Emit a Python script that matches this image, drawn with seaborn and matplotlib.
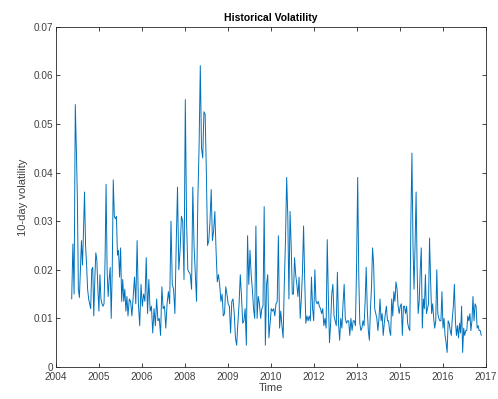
import numpy as np
import pandas as pd
import matplotlib
matplotlib.use("Agg")
import matplotlib.pyplot as plt
import seaborn as sns
from matplotlib.ticker import FuncFormatter

# ---- data ----
vol_a = [0.014, 0.0253, 0.015, 0.054, 0.045, 0.035, 0.016, 0.0143, 0.020, 0.026, 0.021, 0.028, 0.036,
         0.025, 0.021, 0.016, 0.014, 0.013, 0.012, 0.020, 0.0205, 0.0105, 0.018, 0.0235, 0.022, 0.016,
         0.0115, 0.019, 0.014, 0.013, 0.0125, 0.013, 0.022, 0.0376, 0.020, 0.0145, 0.018, 0.0205, 0.010,
         0.020, 0.0385, 0.031, 0.0305, 0.031, 0.023, 0.024, 0.0185, 0.0245, 0.0135, 0.018, 0.0135, 0.016,
         0.0115, 0.0145]
vol_b = [0.0105, 0.014, 0.0135, 0.0105, 0.0145, 0.0185, 0.013, 0.026, 0.013, 0.0085, 0.017, 0.0125,
         0.015, 0.0135, 0.0225, 0.011, 0.018, 0.0115, 0.0125, 0.007, 0.012, 0.0085, 0.014, 0.0095, 0.010,
         0.0065, 0.0165, 0.012, 0.0125, 0.008, 0.013, 0.0155, 0.013, 0.030, 0.017, 0.016, 0.011, 0.025,
         0.037, 0.020, 0.024, 0.031, 0.030, 0.018, 0.055, 0.030, 0.020, 0.0195, 0.019, 0.016, 0.037, 0.025,
         0.019, 0.0135, 0.034, 0.045, 0.062, 0.045, 0.043, 0.0525, 0.052, 0.040, 0.025, 0.026, 0.030,
         0.0365, 0.026, 0.028, 0.032, 0.024, 0.0175, 0.019, 0.017, 0.0135, 0.015, 0.0105, 0.011, 0.0165,
         0.015, 0.013, 0.0125, 0.007, 0.0135, 0.014, 0.011, 0.006, 0.0045, 0.009, 0.013, 0.019, 0.0145,
         0.009, 0.0095, 0.012, 0.0045, 0.027, 0.017]
vol_c = [0.024, 0.019, 0.016, 0.012, 0.010, 0.029, 0.010, 0.0145, 0.013, 0.010, 0.012, 0.0125, 0.033,
         0.0045, 0.017, 0.019, 0.006, 0.009, 0.012, 0.0115, 0.012, 0.0105, 0.013, 0.0135, 0.027, 0.008,
         0.0115, 0.0085, 0.006, 0.017, 0.026, 0.039, 0.031, 0.014, 0.032, 0.025, 0.015, 0.015, 0.0225,
         0.019, 0.017, 0.0145, 0.0185, 0.010, 0.014, 0.0195, 0.029, 0.018, 0.009, 0.0105, 0.0095, 0.0105,
         0.0095, 0.0185, 0.012, 0.0095, 0.020, 0.0135, 0.013, 0.0135, 0.0125, 0.012, 0.011, 0.012, 0.0085,
         0.010, 0.008, 0.0262, 0.014, 0.005, 0.009, 0.015, 0.017, 0.0105, 0.0095, 0.0085, 0.0195, 0.009,
         0.0055, 0.010, 0.008, 0.013, 0.017, 0.010, 0.009, 0.0095, 0.0095, 0.0065, 0.010, 0.0075, 0.0095,
         0.0095, 0.0085, 0.0205, 0.039, 0.019, 0.009, 0.0075, 0.008, 0.0095, 0.0085, 0.0135, 0.0205, 0.012,
         0.0075, 0.0055, 0.012, 0.0165, 0.0245, 0.021, 0.012, 0.011, 0.010, 0.0075, 0.010, 0.014, 0.0095,
         0.011, 0.0065, 0.009, 0.011, 0.0125, 0.0095, 0.0095, 0.0075, 0.0065, 0.014, 0.0105, 0.0155,
         0.0135, 0.0175, 0.016, 0.0125, 0.011, 0.0125, 0.013, 0.0065, 0.0125, 0.0125, 0.011, 0.0125, 0.009,
         0.008, 0.0075, 0.030, 0.044, 0.025, 0.016, 0.025, 0.036, 0.020, 0.011, 0.0135, 0.020, 0.0245,
         0.008, 0.014, 0.012, 0.019, 0.011, 0.012, 0.013, 0.0265, 0.018, 0.011, 0.013, 0.010, 0.008,
         0.0095, 0.020, 0.011, 0.010, 0.0095, 0.0095, 0.0155, 0.008, 0.010, 0.0065, 0.005, 0.003, 0.0095,
         0.009, 0.0075, 0.0065, 0.010, 0.0125, 0.017, 0.0095, 0.0065, 0.0085, 0.006, 0.009, 0.007, 0.0125,
         0.003, 0.008, 0.0065, 0.0075, 0.0075, 0.0105, 0.0095, 0.011, 0.0075, 0.0095, 0.0145, 0.0095,
         0.013, 0.0125, 0.008, 0.0085, 0.0075, 0.0075, 0.0065]
vol = vol_a + vol_b + vol_c

# dates (in years) read for a few landmark observations (first, peaks, last)
anchor_obs = [0, 3, 40, 54, 98, 110, 151, 182, 245, 297, 364]
anchor_year = [2004.475, 2004.584, 2005.732, 2006.177, 2007.910, 2008.363,
               2009.865, 2010.974, 2013.121, 2014.793, 2016.888]

x_range = [2004, 2017]
tick_labels = ["2004", "2005", "2006", "2008", "2009", "2010", "2012", "2013", "2015", "2016", "2017"]
y_ticks = [0, 0.01, 0.02, 0.03, 0.04, 0.05, 0.06, 0.07]

t = np.interp(np.arange(len(vol)), anchor_obs, anchor_year)
df = pd.DataFrame({"Time": t, "vol": vol})

# ---- style ----
sns.set_theme(style="ticks")
plt.rcParams["font.family"] = ["Liberation Sans", "DejaVu Sans"]
axis_gray = "#262626"
text_gray = "#404040"

fig = plt.figure(figsize=(4.98, 3.99), dpi=100)
ax = fig.add_axes([0.1124, 0.0802, 0.9759 - 0.1124, 0.933 - 0.0802])

sns.lineplot(data=df, x="Time", y="vol", ax=ax, color="#0072BD", linewidth=0.7)

ax.set_xlim(x_range[0], x_range[1])
ax.set_ylim(y_ticks[0], y_ticks[-1])
ax.set_xticks(np.linspace(x_range[0], x_range[1], len(tick_labels)))
ax.set_xticklabels(tick_labels)
ax.set_yticks(y_ticks)
ax.yaxis.set_major_formatter(FuncFormatter(lambda v, p: "%g" % round(v, 3)))

ax.tick_params(direction="in", length=3, width=0.6, colors=axis_gray, labelsize=7.2,
               labelcolor=text_gray, top=True, right=True, pad=2)
ax.tick_params(axis="x", pad=3.5)
for s in ax.spines.values():
    s.set_visible(True)
    s.set_color(axis_gray)
    s.set_linewidth(0.6)

ax.set_xlabel("Time", fontsize=8, color=text_gray, labelpad=1)
ax.set_ylabel("10-day volatility", fontsize=8, color=text_gray, labelpad=4)
ax.set_title("Historical Volatility", fontsize=7.5, fontweight="bold", color="black", pad=4)
ax.grid(False)
ax.set_facecolor("white")
fig.patch.set_facecolor("white")

fig.savefig("out.png", dpi=100)
